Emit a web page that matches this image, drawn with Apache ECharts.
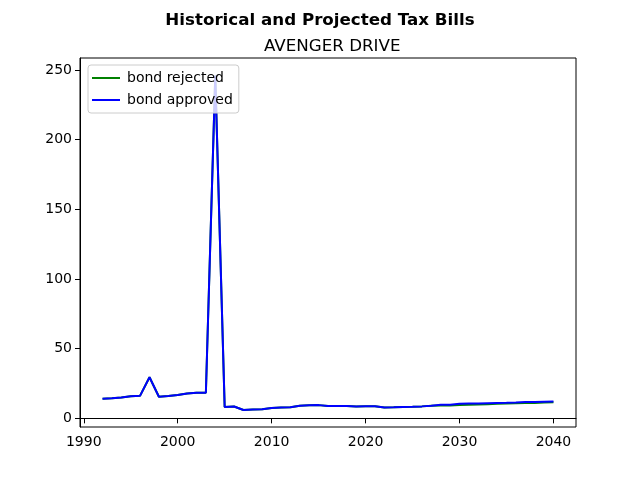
<!DOCTYPE html>
<html>
<head>
<meta charset="utf-8">
<script src="https://cdn.jsdelivr.net/npm/echarts@6/dist/echarts.min.js"></script>
<style>
  html, body { margin: 0; padding: 0; background: #fff; }
  #chart { width: 640px; height: 480px; }
</style>
</head>
<body>
<div id="chart"></div>
<script>
// years shown on the x axis
var years = [1992, 1993, 1994, 1995, 1996, 1997, 1998, 1999, 2000, 2001,
  2002, 2003, 2004, 2005, 2006, 2007, 2008, 2009, 2010, 2011,
  2012, 2013, 2014, 2015, 2016, 2017, 2018, 2019, 2020, 2021,
  2022, 2023, 2024, 2025, 2026, 2027, 2028, 2029, 2030, 2031,
  2032, 2033, 2034, 2035, 2036, 2037, 2038, 2039, 2040];

var bondRejected = [14.0, 14.4, 15.0, 15.8, 16.3, 29.5, 15.5, 16.0, 16.7, 17.8,
  18.3, 18.4, 246.0, 8.2, 8.5, 6.0, 6.3, 6.6, 7.5, 7.8,
  8.0, 9.0, 9.4, 9.5, 8.8, 8.9, 8.8, 8.6, 8.7, 8.7,
  7.8, 7.9, 8.1, 8.3, 8.6, 9.0, 9.2, 9.3, 9.6, 9.8,
  10.0, 10.2, 10.4, 10.6, 10.8, 11.0, 11.1, 11.3, 11.5];

var bondApproved = [14.0, 14.4, 15.0, 15.8, 16.3, 29.5, 15.5, 16.0, 16.7, 17.8,
  18.3, 18.4, 246.0, 8.2, 8.5, 6.0, 6.3, 6.6, 7.5, 7.8,
  8.0, 9.0, 9.4, 9.5, 8.8, 8.9, 8.8, 8.6, 8.7, 8.7,
  7.8, 7.9, 8.1, 8.3, 8.6, 9.0, 9.7, 9.8, 10.4, 10.6,
  10.7, 10.9, 11.1, 11.2, 11.4, 11.7, 11.7, 11.9, 12.1];

var xTicks = [1990, 2000, 2010, 2020, 2030, 2040];
var yTicks = [0, 50, 100, 150, 200, 250];

function pairs(xs, ys) {
  return xs.map(function (x, i) { return [x, ys[i]]; });
}

var font = 'DejaVu Sans';
var chart = echarts.init(document.getElementById('chart'), null, { renderer: 'canvas' });

var option = {
  backgroundColor: '#ffffff',
  animation: false,
  textStyle: { fontFamily: font },
  title: [
    {
      text: 'Historical and Projected Tax Bills',
      left: 'center',
      top: 7,
      textStyle: { fontFamily: font, fontSize: 16.7, fontWeight: 'bold', color: '#000' }
    },
    {
      text: 'AVENGER DRIVE',
      left: 259,
      top: 33,
      textStyle: { fontFamily: font, fontSize: 16.7, fontWeight: 'normal', color: '#000' }
    }
  ],
  legend: {
    orient: 'vertical',
    left: 88,
    top: 65,
    icon: 'rect',
    itemWidth: 28,
    itemHeight: 2,
    itemGap: 8,
    padding: [6, 6, 6, 4],
    backgroundColor: 'rgba(255,255,255,0.8)',
    borderColor: '#cccccc',
    borderWidth: 1,
    borderRadius: 3,
    textStyle: { fontFamily: font, fontSize: 14, color: '#000', padding: [0, 0, 0, 2] },
    data: ['bond rejected', 'bond approved']
  },
  grid: {
    left: 80, right: 64, top: 58, bottom: 53,
    show: true,
    borderColor: '#000',
    borderWidth: 1,
    backgroundColor: 'transparent'
  },
  xAxis: {
    type: 'value',
    min: 1989.6,
    max: 2042.4,
    axisLine: { show: true, lineStyle: { color: '#000', width: 1 } },
    axisTick: { show: true, length: 5, lineStyle: { color: '#000' }, customValues: xTicks },
    axisLabel: {
      color: '#000', fontSize: 14, fontFamily: font, margin: 8, customValues: xTicks,
      formatter: function (v) { return String(v); }
    },
    splitLine: { show: false }
  },
  yAxis: {
    type: 'value',
    min: -6.2,
    max: 258.6,
    axisLine: { show: true, lineStyle: { color: '#000', width: 1 } },
    axisTick: { show: true, length: 5, lineStyle: { color: '#000' }, customValues: yTicks },
    axisLabel: {
      color: '#000', fontSize: 14, fontFamily: font, margin: 8, customValues: yTicks,
      formatter: function (v) { return String(v); }
    },
    splitLine: { show: false }
  },
  series: [
    {
      name: 'bond rejected',
      type: 'line',
      symbol: 'none',
      data: pairs(years, bondRejected),
      lineStyle: { color: '#008000', width: 2 },
      itemStyle: { color: '#008000' }
    },
    {
      name: 'bond approved',
      type: 'line',
      symbol: 'none',
      data: pairs(years, bondApproved),
      lineStyle: { color: '#0000ff', width: 2 },
      itemStyle: { color: '#0000ff' }
    }
  ]
};

chart.setOption(option);
</script>
</body>
</html>
